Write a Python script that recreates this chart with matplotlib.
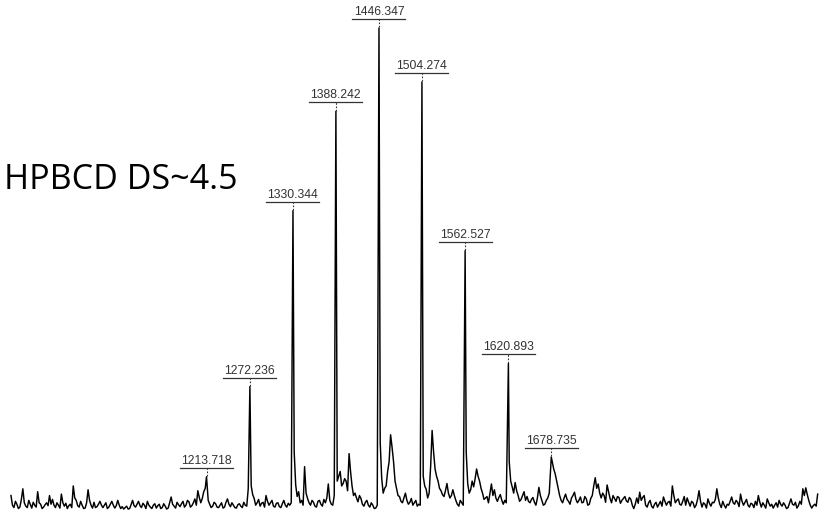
import numpy as np
import matplotlib.pyplot as plt

# spectrum trace (relative intensity, %)
# trace: samples at 950, 954, 958 ... ; trace_between: samples at 952, 956, 960 ...
trace_start = 950
trace_step = 4
trace = [
    3.0, 0.5, 1.2, 0.6, 4.4, 0.8, 2.0, 0.4, 1.0, 3.8,
    1.2, 0.6, 1.5, 3.0, 2.2, 0.5, 1.0, 3.3, 0.8, 0.3,
    1.2, 5.0, 2.0, 0.6, 1.0, 0.4, 4.2, 1.0, 1.6, 0.7,
    1.8, 0.5, 1.5, 0.6, 1.8, 0.4, 2.0, 0.3, 0.2, 0.8,
    0.3, 2.0, 0.6, 1.8, 0.5, 1.0, 1.8, 0.6, 1.0, 0.4,
    1.2, 0.5, 0.8, 0.4, 2.7, 0.8, 1.6, 0.7, 1.8, 1.0,
    1.7, 0.9, 2.3, 4.0, 1.5, 3.8, 4.0, 1.2, 0.8, 1.3,
    0.5, 1.5, 0.6, 2.3, 0.7, 1.0, 0.4, 1.3, 0.5, 1.0,
    4.4, 5.0, 2.4, 1.5, 0.8, 1.6, 3.0, 1.0, 2.0, 0.6,
    1.5, 0.5, 2.0, 0.6, 1.0, 1.0, 5.2, 3.8, 2.0, 9.0,
    2.4, 1.0, 1.6, 0.6, 2.0, 0.8, 1.5, 5.4, 1.2, 3.0,
    6.0, 8.0, 5.5, 6.0, 11.7, 5.0, 3.5, 1.7, 2.4, 0.8,
    2.0, 0.6, 1.0, 0.4, 1.0, 6.6, 4.5, 8.0, 15.6, 10.0,
    4.5, 2.8, 1.5, 3.5, 1.2, 2.4, 1.5, 0.8, 1.0, 7.0,
    4.3, 3.5, 16.5, 8.5, 6.0, 4.0, 2.8, 5.5, 2.5, 4.2,
    2.0, 0.8, 1.5, 1.0, 5.5, 4.2, 4.8, 8.5, 6.0, 3.5,
    2.5, 1.5, 5.4, 4.2, 1.8, 3.2, 1.2, 1.5, 10.0, 4.8,
    5.7, 3.0, 2.2, 3.8, 2.8, 1.5, 2.6, 1.0, 4.7, 2.0,
    1.2, 2.5, 1.0, 8.5, 6.0, 3.0, 1.5, 3.3, 1.8, 2.5,
    3.7, 1.5, 2.7, 1.6, 2.3, 1.2, 3.0, 6.7, 5.4, 2.5,
    3.0, 5.2, 2.4, 3.0, 1.8, 2.6, 2.0, 2.8, 1.6, 2.2,
    0.3, 2.5, 3.7, 2.6, 1.0, 1.5, 0.8, 1.2, 0.6, 1.8,
    2.7, 1.0, 1.8, 5.0, 1.5, 2.3, 1.0, 2.8, 2.5, 0.8,
    1.5, 1.0, 4.0, 0.6, 1.2, 2.3, 0.8, 1.5, 4.4, 1.2,
    1.8, 0.4, 1.0, 2.7, 1.2, 1.6, 3.3, 1.0, 2.2, 0.6,
    1.2, 1.8, 3.0, 0.6, 1.0, 2.3, 0.8, 0.4, 1.5, 2.0,
    0.8, 1.0, 0.5, 2.3, 1.0, 0.4, 1.8, 4.4, 4.6, 2.0,
    0.4, 1.2, 3.3,
]
trace_between = [
    1.0, 1.8, 0.3, 2.2, 1.5, 0.5, 1.2, 1.6, 0.6, 1.5,
    0.3, 1.1, 0.9, 1.2, 1.0, 1.5, 0.4, 1.5, 1.4, 0.9,
    0.5, 2.5, 0.9, 1.8, 0.3, 1.5, 2.0, 0.4, 0.5, 1.2,
    1.0, 1.0, 0.3, 1.2, 1.0, 0.9, 1.0, 0.7, 0.5, 0.2,
    1.1, 0.9, 1.2, 0.9, 1.4, 0.3, 1.0, 0.3, 1.3, 0.9,
    0.3, 1.3, 0.2, 1.5, 1.2, 0.4, 1.1, 1.3, 0.6, 2.0,
    0.6, 1.5, 1.0, 2.6, 2.4, 4.5, 2.0, 0.5, 1.6, 0.6,
    1.0, 0.4, 1.6, 1.2, 1.5, 0.5, 1.1, 0.8, 1.6, 0.8,
    20.0, 3.2, 1.0, 2.2, 1.4, 0.6, 1.8, 1.5, 0.8, 1.4,
    0.7, 1.3, 1.0, 1.4, 1.5, 12.0, 2.8, 1.5, 1.0, 3.5,
    1.5, 2.0, 0.8, 1.8, 1.2, 2.2, 2.5, 2.0, 1.0, 40.0,
    7.0, 5.0, 6.5, 4.0, 8.0, 3.0, 2.5, 3.0, 1.2, 1.6,
    1.0, 1.5, 0.3, 1.0, 14.0, 3.5, 5.0, 10.0, 13.0, 6.0,
    3.0, 1.8, 2.5, 2.0, 1.6, 1.0, 2.0, 1.2, 30.0, 5.0,
    2.5, 9.0, 12.0, 7.0, 4.5, 3.2, 4.0, 3.5, 3.0, 3.0,
    1.2, 2.0, 1.0, 12.0, 3.5, 6.0, 6.5, 7.0, 4.5, 2.2,
    2.8, 3.5, 3.0, 2.5, 2.6, 2.0, 2.0, 25.0, 6.0, 3.5,
    4.0, 1.8, 3.0, 2.0, 1.8, 2.2, 1.6, 2.5, 3.0, 1.0,
    2.0, 3.5, 10.0, 7.5, 4.5, 2.0, 2.5, 2.2, 1.2, 3.0,
    2.2, 2.0, 1.5, 2.8, 1.0, 2.4, 5.0, 4.5, 3.5, 3.5,
    1.6, 3.8, 1.5, 2.4, 2.8, 1.4, 2.4, 1.9, 2.6, 1.0,
    1.2, 1.4, 2.0, 3.0, 0.6, 2.0, 0.4, 1.6, 1.2, 0.8,
    1.8, 1.6, 0.8, 3.0, 2.0, 1.2, 1.8, 1.0, 1.6, 1.8,
    0.5, 2.2, 1.8, 1.5, 0.4, 1.4, 1.6, 2.2, 2.5, 0.5,
    1.0, 1.2, 1.8, 1.5, 2.0, 0.7, 1.8, 1.6, 1.0, 1.4,
    0.5, 1.0, 1.6, 1.5, 0.4, 1.5, 1.2, 1.0, 0.6, 1.2,
    1.5, 0.3, 1.4, 1.2, 1.6, 0.9, 1.2, 3.0, 3.2, 1.0,
    0.9, 0.8,
]

# labelled peaks
peak_mz = [1213.718, 1272.236, 1330.344, 1388.242, 1446.347,
           1504.274, 1562.527, 1620.893, 1678.735]
peak_int = [6.9, 25.6, 62.1, 82.7, 100.0, 88.8, 53.8, 30.4, 11.0]

sample_name = 'HPBCD DS~4.5'

grid_mz = np.concatenate([
    trace_start + trace_step * np.arange(len(trace)),
    trace_start + trace_step / 2 + trace_step * np.arange(len(trace_between)),
])
grid_int = np.array(trace + trace_between)
# drop grid samples sitting right on a labelled apex
far = np.all(np.abs(grid_mz[:, None] - np.array(peak_mz)[None, :]) > 1.0, axis=1)
mz = np.concatenate([grid_mz[far], peak_mz])
inten = np.concatenate([grid_int[far], peak_int])
order = np.argsort(mz)
mz, inten = mz[order], inten[order]

W, H = 823, 517
fig = plt.figure(figsize=(W / 100, H / 100), dpi=100)
ax = fig.add_axes([0, 0, 1, 1])
ax.axis('off')

xlim = (935.2, 2045.2)
ylim = (-1.45, 105.8)
ax.set_xlim(xlim)
ax.set_ylim(ylim)

ax.plot(mz, inten, color='black', lw=1.05)

px_y = (ylim[1] - ylim[0]) / H
px_x = (xlim[1] - xlim[0]) / W
for m, h in zip(peak_mz, peak_int):
    y_line = h + 9 * px_y
    ax.plot([m, m], [h + 0.6 * px_y, y_line], color='#333333', lw=0.8,
            ls=(0, (1.5, 1.5)))
    ax.plot([m - 26.5 * px_x, m + 26.5 * px_x], [y_line, y_line],
            color='#333333', lw=0.9)
    ax.text(m, h + 13 * px_y, f'{m:.3f}', ha='center', va='baseline',
            fontsize=8.7, color='#333333', family='Liberation Sans')

fig.text(238 / W, 1 - 189 / H, sample_name, ha='right', va='baseline',
         fontsize=24.5, family='Open Sans', color='black')

fig.savefig('out.png', dpi=100)
